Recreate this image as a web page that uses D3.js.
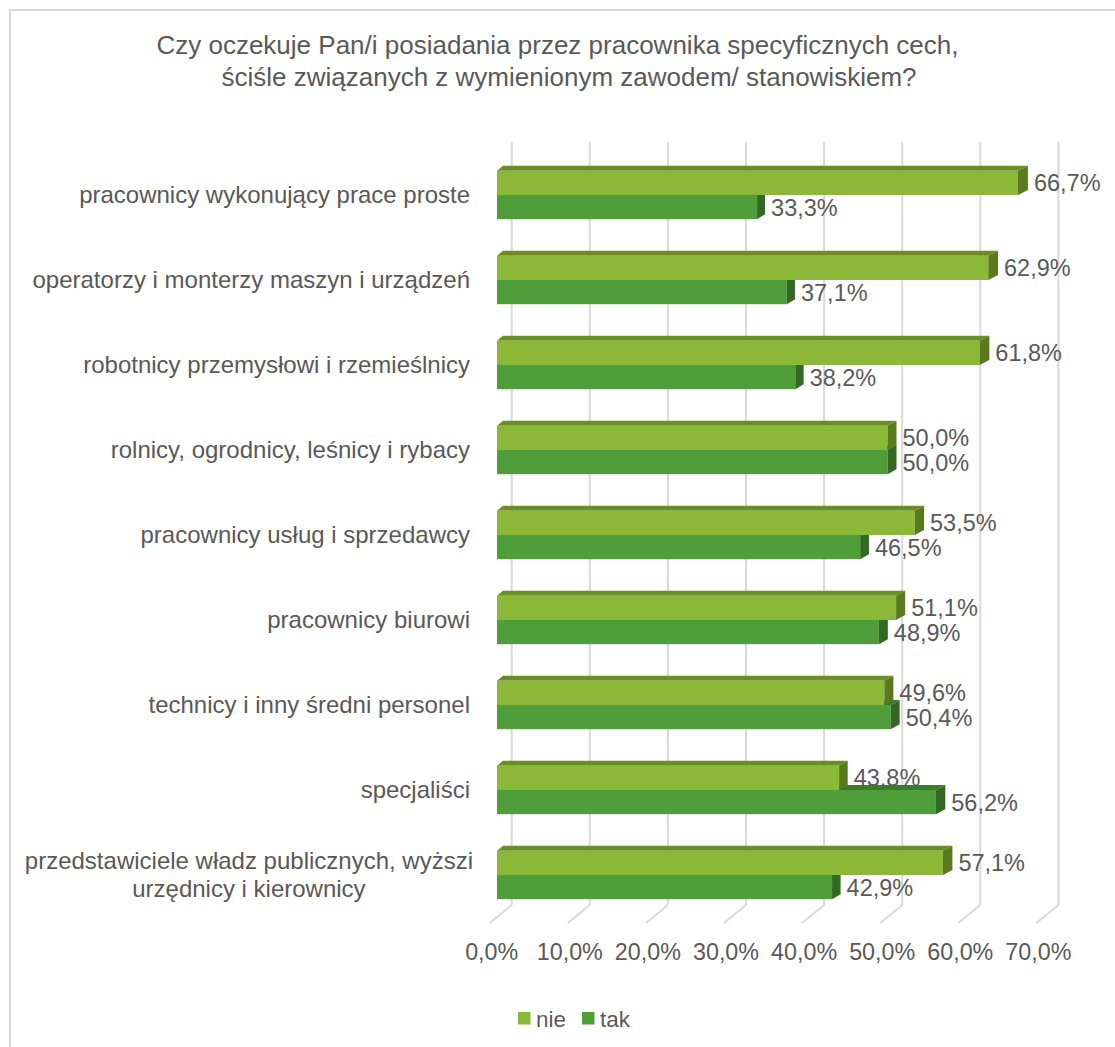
<!DOCTYPE html>
<html lang="pl">

<head>
  <meta charset="utf-8">
  <title>Cechy pracownika</title>
  <script type="text/javascript" src="https://d3js.org/d3.v7.min.js"></script>
  <style>
    body {
      margin: 0;
      background: #ffffff;
    }

    text {
      font-family: "Liberation Sans", Arial, sans-serif;
      fill: #595959;
    }

    .grid line {
      stroke: #d9d9d9;
      stroke-width: 2;
    }
  </style>
</head>

<body>
  <div id="container"></div>
  <script type="text/javascript">
    // DATA
    var categories = [
      "pracownicy wykonujący prace proste",
      "operatorzy i monterzy maszyn i urządzeń",
      "robotnicy przemysłowi i rzemieślnicy",
      "rolnicy, ogrodnicy, leśnicy i rybacy",
      "pracownicy usług i sprzedawcy",
      "pracownicy biurowi",
      "technicy i inny średni personel",
      "specjaliści",
      "przedstawiciele władz publicznych, wyższi|urzędnicy i kierownicy"
    ];
    var nieValues = [66.7, 62.9, 61.8, 50.0, 53.5, 51.1, 49.6, 43.8, 57.1];
    var takValues = [33.3, 37.1, 38.2, 50.0, 46.5, 48.9, 50.4, 56.2, 42.9];
    var seriesNames = ["nie", "tak"];
    var tickValues = [0, 10, 20, 30, 40, 50, 60, 70];
    var titleLines = [
      "Czy oczekuje Pan/i posiadania przez pracownika specyficznych cech,",
      "ściśle związanych z wymienionym zawodem/ stanowiskiem?"
    ];

    var w = 1115;
    var h = 1047;

    var colors = {
      nie: { front: "#8cb837", top: "#6b8c28", side: "#5a7a1e" },
      tak: { front: "#509e3a", top: "#3e7a2b", side: "#346923" }
    };

    var svg = d3.select("div#container").append("svg")
      .attr("width", w)
      .attr("height", h);

    // chart border
    svg.append("rect")
      .attr("x", 10)
      .attr("y", 10)
      .attr("width", w + 20)
      .attr("height", h + 20)
      .attr("fill", "none")
      .attr("stroke", "#d9d9d9")
      .attr("stroke-width", 2);

    // TITLE
    var titleX = [557.5, 569];
    svg.selectAll("text.title")
      .data(titleLines)
      .enter().append("text")
      .attr("class", "title")
      .attr("x", function (d, i) { return titleX[i]; })
      .attr("y", function (d, i) { return 54 + i * 32; })
      .attr("text-anchor", "middle")
      .style("font-size", "26px")
      .text(function (d) { return d; });

    // SCALES
    // front plane of the bars
    var xFront = d3.scaleLinear().domain([0, 70]).range([497, 497 + 70 * 7.81]);
    // back plane of the bars (slight perspective)
    var xBack = d3.scaleLinear().domain([0, 70]).range([503, 503 + 70 * 7.87]);
    // back wall gridlines
    var xWall = d3.scaleLinear().domain([0, 70]).range([511.7, 511.7 + 70 * 7.81]);
    var floorDx = -22;
    var wallTop = 142;
    var wallBottom = 905;
    var floorFront = 923;
    var depthDy = -5;

    var yScale = d3.scaleBand()
      .domain(d3.range(categories.length))
      .range([152.5, 152.5 + 85 * categories.length]);

    var barH = 24.2;

    // GRID (back wall + floor)
    var grid = svg.append("g").attr("class", "grid");
    grid.selectAll("line.v")
      .data(tickValues)
      .enter().append("line")
      .attr("class", "v")
      .attr("x1", function (d) { return xWall(d); })
      .attr("x2", function (d) { return xWall(d); })
      .attr("y1", wallTop)
      .attr("y2", wallBottom);
    grid.selectAll("line.f")
      .data(tickValues)
      .enter().append("line")
      .attr("class", "f")
      .attr("x1", function (d) { return xWall(d); })
      .attr("x2", function (d) { return xWall(d) + floorDx; })
      .attr("y1", wallBottom)
      .attr("y2", floorFront);

    // tick labels
    var fmt = d3.format(".1f");
    function pct(v) { return fmt(v).replace(".", ",") + "%"; }

    svg.selectAll("text.tick")
      .data(tickValues)
      .enter().append("text")
      .attr("class", "tick")
      .attr("x", function (d) { return xWall(d) + floorDx + 2; })
      .attr("y", 960)
      .attr("text-anchor", "middle")
      .style("font-size", "23.3px")
      .text(pct);

    // BARS
    var rows = categories.map(function (c, i) {
      return { i: i, cat: c, nie: nieValues[i], tak: takValues[i] };
    });

    function drawBar(g, v, yTop, col) {
      var x0f = xFront(0), x1f = xFront(v);
      var x0b = xBack(0), x1b = xBack(v);
      var yBot = yTop + barH;
      // top face
      g.append("path")
        .attr("d", "M" + x0f + "," + yTop + "L" + x1f + "," + yTop +
          "L" + x1b + "," + (yTop + depthDy) + "L" + x0b + "," + (yTop + depthDy) + "Z")
        .attr("fill", col.top);
      // front face
      g.append("rect")
        .attr("x", x0f)
        .attr("y", yTop)
        .attr("width", x1f - x0f)
        .attr("height", barH)
        .attr("fill", col.front);
      // side face
      g.append("path")
        .attr("d", "M" + x1f + "," + yTop + "L" + x1b + "," + (yTop + depthDy) +
          "L" + x1b + "," + (yBot + depthDy) + "L" + x1f + "," + yBot + "Z")
        .attr("fill", col.side);
    }

    var bars = svg.append("g").attr("class", "bars");
    rows.forEach(function (r) {
      var yc = yScale(r.i) + yScale.bandwidth() / 2;
      var g = bars.append("g");
      drawBar(g, r.tak, yc, colors.tak);
      drawBar(g, r.nie, yc - barH, colors.nie);
    });

    // value labels
    var labels = svg.append("g").attr("class", "values");
    rows.forEach(function (r) {
      var yc = yScale(r.i) + yScale.bandwidth() / 2;
      labels.append("text")
        .attr("x", xBack(r.nie) + 6)
        .attr("y", yc - barH / 2 + 8.5)
        .style("font-size", "23.5px")
        .text(pct(r.nie));
      labels.append("text")
        .attr("x", xBack(r.tak) + 6)
        .attr("y", yc + barH / 2 + 8.5)
        .style("font-size", "23.5px")
        .text(pct(r.tak));
    });

    // category labels
    var catRight = 470;
    var cats = svg.append("g").attr("class", "cats");
    rows.forEach(function (r) {
      var yc = yScale(r.i) + yScale.bandwidth() / 2;
      var lines = r.cat.split("|");
      if (lines.length === 1) {
        cats.append("text")
          .attr("x", catRight)
          .attr("y", yc + 8)
          .attr("text-anchor", "end")
          .style("font-size", "24px")
          .text(lines[0]);
      } else {
        var tg = cats.append("g");
        var tt = lines.map(function (l, k) {
          return tg.append("text")
            .attr("y", yc + 8 + (k - (lines.length - 1) / 2) * 28)
            .attr("text-anchor", "middle")
            .style("font-size", "24px")
            .text(l);
        });
        var maxW = d3.max(tt, function (t) { return t.node().getComputedTextLength(); });
        tt.forEach(function (t) { t.attr("x", catRight + 3 - maxW / 2); });
      }
    });

    // LEGEND
    var legendX = [518, 582];
    var legend = svg.append("g").attr("class", "legend");
    seriesNames.forEach(function (s, i) {
      legend.append("rect")
        .attr("x", legendX[i])
        .attr("y", 1012)
        .attr("width", 12.5)
        .attr("height", 12.5)
        .attr("fill", colors[s].front);
      legend.append("text")
        .attr("x", legendX[i] + 18)
        .attr("y", 1027)
        .style("font-size", "22.5px")
        .text(s);
    });
  </script>
</body>

</html>
